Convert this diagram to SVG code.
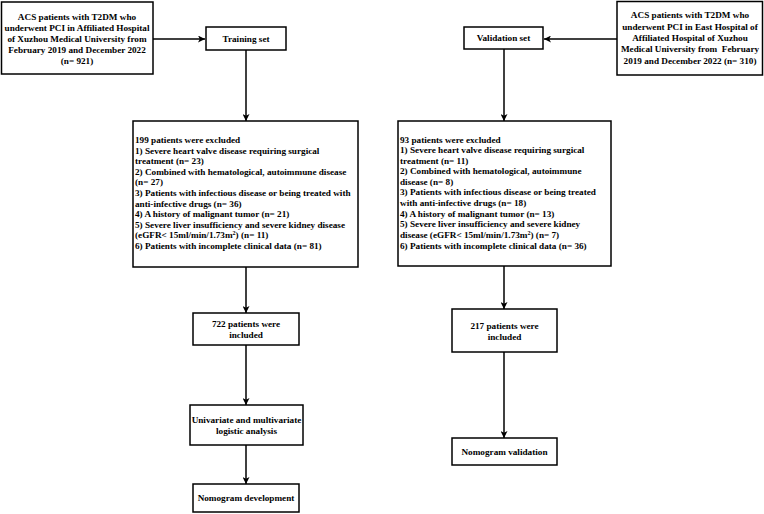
<svg xmlns="http://www.w3.org/2000/svg" width="764" height="514" viewBox="0 0 764 514">
<defs>
<style>
.box{fill:#fff;stroke:#000;stroke-width:1.5}
.t{font-family:"Liberation Serif","Times New Roman",serif;font-weight:bold;font-size:9.2px;fill:#000}
.c{text-anchor:middle}
.ln{stroke:#000;stroke-width:1.5;fill:none}
.sup{font-size:6px}
</style>
<marker id="ah" markerWidth="7" markerHeight="7" viewBox="0 0 7 7" refX="7" refY="3.5" orient="auto" markerUnits="userSpaceOnUse">
<path d="M0,0 L7,3.5 L0,7 L1.8,3.5 Z" fill="#000"/>
</marker>
</defs>
<rect width="764" height="514" fill="#fff"/>
<g id="connectors">
<line class="ln" x1="153" y1="39" x2="205" y2="39" marker-end="url(#ah)"/>
<line class="ln" x1="617" y1="39" x2="544" y2="39" marker-end="url(#ah)"/>
<line class="ln" x1="246" y1="50" x2="246" y2="121" marker-end="url(#ah)"/>
<line class="ln" x1="504" y1="49" x2="504" y2="121" marker-end="url(#ah)"/>
<line class="ln" x1="246" y1="267" x2="246" y2="313" marker-end="url(#ah)"/>
<line class="ln" x1="504" y1="266" x2="504" y2="309" marker-end="url(#ah)"/>
<line class="ln" x1="246" y1="345" x2="246" y2="405" marker-end="url(#ah)"/>
<line class="ln" x1="504" y1="352" x2="504" y2="438" marker-end="url(#ah)"/>
<line class="ln" x1="246" y1="445" x2="246" y2="484" marker-end="url(#ah)"/>
</g>
<g id="src-train">
<rect class="box" x="1.5" y="2" width="151.5" height="72"/>
<text class="t c" x="77" y="20">ACS patients with T2DM who</text>
<text class="t c" x="77" y="31">underwent PCI in Affiliated Hospital</text>
<text class="t c" x="77" y="42">of Xuzhou Medical University from</text>
<text class="t c" x="77" y="53">February 2019 and December 2022</text>
<text class="t c" x="77" y="64">(n= 921)</text>
</g>
<g id="src-valid">
<rect class="box" x="617" y="1.5" width="145.5" height="73.5"/>
<text class="t c" x="690" y="18">ACS patients with T2DM who</text>
<text class="t c" x="690" y="30">underwent PCI in East Hospital of</text>
<text class="t c" x="690" y="41">Affiliated Hospital of Xuzhou</text>
<text class="t c" x="690" y="52" xml:space="preserve">Medical University from  February</text>
<text class="t c" x="690" y="64">2019 and December 2022 (n= 310)</text>
</g>
<g id="training-set">
<rect class="box" x="206" y="27" width="80" height="23"/>
<text class="t c" x="246" y="41.5">Training set</text>
</g>
<g id="validation-set">
<rect class="box" x="464" y="27" width="79" height="22"/>
<text class="t c" x="503.5" y="41">Validation set</text>
</g>
<g id="excl-train">
<rect class="box" x="133" y="121" width="225" height="146"/>
<text class="t" x="135" y="143">199 patients were excluded</text>
<text class="t" x="135" y="153.6">1) Severe heart valve disease requiring surgical</text>
<text class="t" x="135" y="164.2">treatment (n= 23)</text>
<text class="t" x="135" y="174.8">2) Combined with hematological, autoimmune disease</text>
<text class="t" x="135" y="185.4">(n= 27)</text>
<text class="t" x="135" y="196">3) Patients with infectious disease or being treated with</text>
<text class="t" x="135" y="206.6">anti-infective drugs (n= 36)</text>
<text class="t" x="135" y="217.2">4) A history of malignant tumor (n= 21)</text>
<text class="t" x="135" y="227.8">5) Severe liver insufficiency and severe kidney disease</text>
<text class="t" x="135" y="238.4">(eGFR&lt; 15ml/min/1.73m<tspan class="sup" dy="-3">2</tspan><tspan dy="3">) (n= 11)</tspan></text>
<text class="t" x="135" y="249">6) Patients with incomplete clinical data (n= 81)</text>
</g>
<g id="excl-valid">
<rect class="box" x="398" y="121" width="213" height="145"/>
<text class="t" x="400" y="143">93 patients were excluded</text>
<text class="t" x="400" y="153.3">1) Severe heart valve disease requiring surgical</text>
<text class="t" x="400" y="163.7">treatment (n= 11)</text>
<text class="t" x="400" y="174.2">2) Combined with hematological, autoimmune</text>
<text class="t" x="400" y="184.7">disease (n= 8)</text>
<text class="t" x="400" y="195.3">3) Patients with infectious disease or being treated</text>
<text class="t" x="400" y="205.8">with anti-infective drugs (n= 18)</text>
<text class="t" x="400" y="216.5">4) A history of malignant tumor (n= 13)</text>
<text class="t" x="400" y="227">5) Severe liver insufficiency and severe kidney</text>
<text class="t" x="400" y="237.8">disease (eGFR&lt; 15ml/min/1.73m<tspan class="sup" dy="-3">2</tspan><tspan dy="3">) (n= 7)</tspan></text>
<text class="t" x="400" y="248.5">6) Patients with incomplete clinical data (n= 36)</text>
</g>
<g id="incl-train">
<rect class="box" x="193" y="313" width="106" height="32"/>
<text class="t c" x="246" y="327">722 patients were</text>
<text class="t c" x="246" y="337.5">included</text>
</g>
<g id="incl-valid">
<rect class="box" x="452" y="309" width="105" height="43"/>
<text class="t c" x="504.5" y="329">217 patients were</text>
<text class="t c" x="504.5" y="340">included</text>
</g>
<g id="analysis">
<rect class="box" x="190" y="405" width="113" height="40"/>
<text class="t c" x="246.5" y="423">Univariate and multivariate</text>
<text class="t c" x="246.5" y="434">logistic analysis</text>
</g>
<g id="nomo-dev">
<rect class="box" x="193" y="484" width="106" height="28"/>
<text class="t c" x="246" y="501">Nomogram development</text>
</g>
<g id="nomo-valid">
<rect class="box" x="452" y="438" width="105" height="27"/>
<text class="t c" x="504.5" y="455">Nomogram validation</text>
</g>
</svg>
